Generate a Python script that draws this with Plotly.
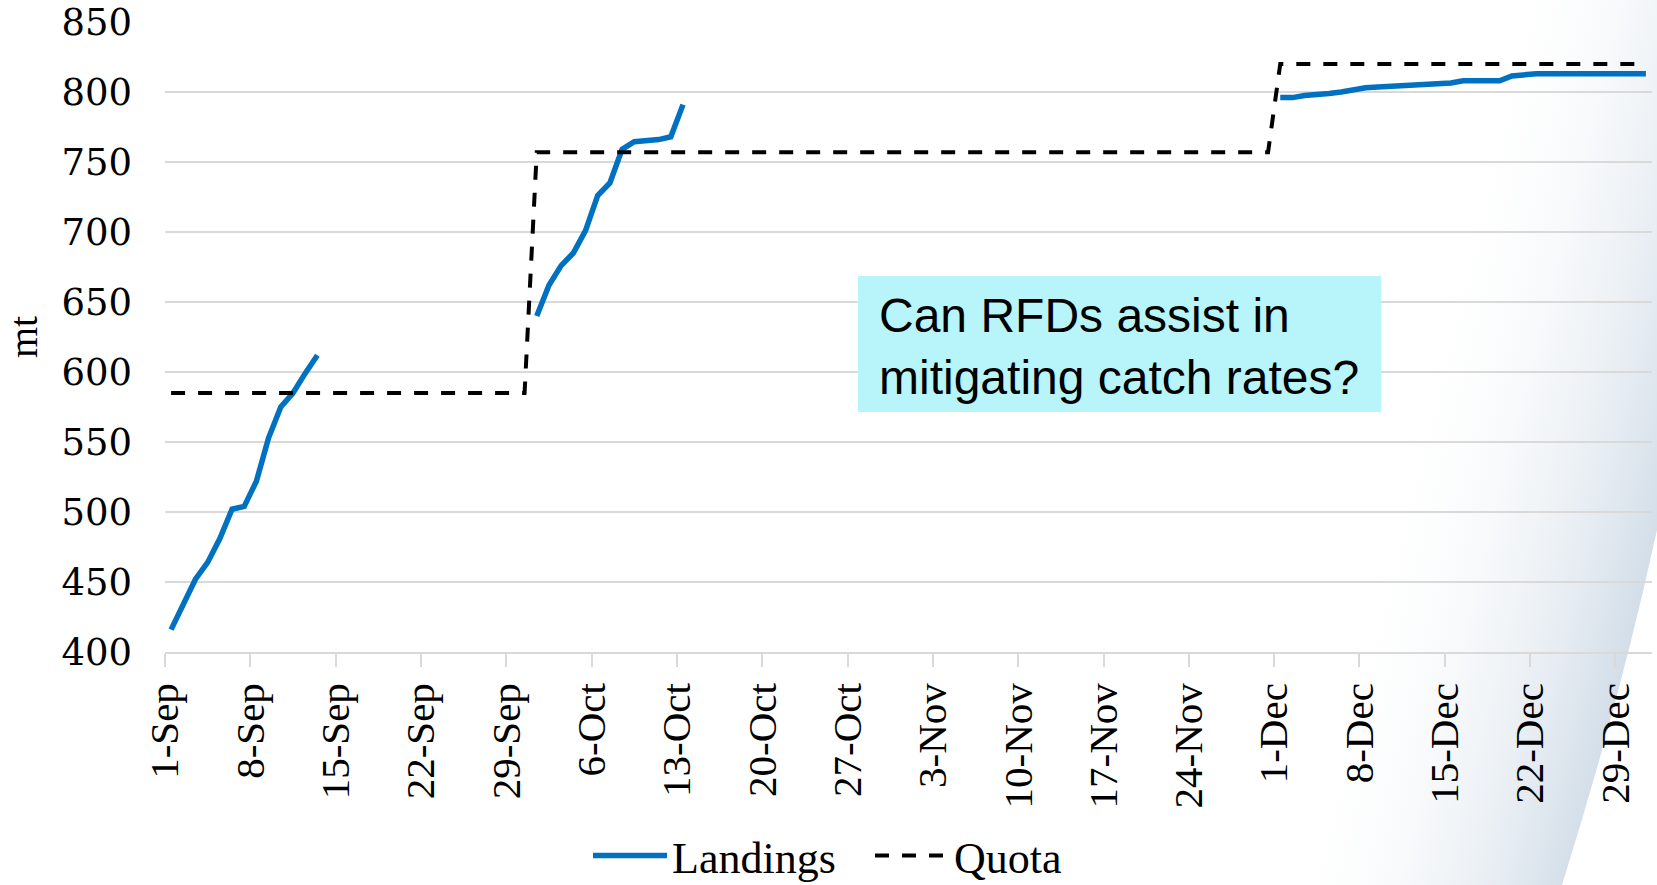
import base64
import plotly.graph_objects as go
import pandas as pd

# Landings (mt) - three reporting periods, one value per day
sep_start = "2023-09-01"
sep_landings = [416, 434, 452, 464, 481, 502, 504, 522, 553, 575, 585, 599, 612]

oct_start = "2023-10-01"
oct_landings = [640, 662, 676, 685, 701, 726, 735, 759, 764.5, 765, 766, 768, 791]

dec_start = "2023-12-01"
dec_landings = [796, 796, 797.5, 798, 799, 800, 801.5, 803, 803.5, 804, 804.3,
                804.8, 805, 805.2, 806.5, 808, 808, 808, 808, 811.5, 812.5,
                813, 813, 813, 813, 813, 813, 813, 813, 813, 813]

# Quota steps
quota_dates = ["2023-09-01", "2023-09-30", "2023-10-01", "2023-11-30", "2023-12-01", "2023-12-31"]
quota_values = [585, 585, 757, 757, 820, 820]

y_ticks = [400, 450, 500, 550, 600, 650, 700, 750, 800, 850]

BLUE = "#0070C0"
GRID = "#d9d9d9"
SERIF = "Liberation Serif"

# points sit in the middle of each day (category axis look)
half_day = pd.Timedelta(hours=12)

def day_series(start, values):
    dates = pd.date_range(start=start, periods=len(values), freq="D") + half_day
    return list(dates), list(values)

x_land, y_land = [], []
for start, vals in [(sep_start, sep_landings), (oct_start, oct_landings), (dec_start, dec_landings)]:
    d, v = day_series(start, vals)
    x_land += d + [None]
    y_land += v + [None]

x_quota = list(pd.to_datetime(quota_dates) + half_day)

fig = go.Figure()

fig.add_trace(go.Scatter(
    x=x_land, y=y_land, mode="lines", name="Landings",
    line=dict(color=BLUE, width=5.5), connectgaps=False,
))
fig.add_trace(go.Scatter(
    x=x_quota, y=quota_values, mode="lines", name="Quota",
    line=dict(color="black", width=4, dash="14px,13px"),
))

# decorative slide background in the lower right corner
svg = """<svg xmlns='http://www.w3.org/2000/svg' width='1657' height='885' viewBox='0 0 1657 885' preserveAspectRatio='none'>
<defs><linearGradient id='g' gradientUnits='userSpaceOnUse' x1='1390' y1='430' x2='1730' y2='515'>
<stop offset='0' stop-color='#ffffff' stop-opacity='0'/>
<stop offset='1' stop-color='#bccddd' stop-opacity='1'/>
</linearGradient></defs>
<path d='M 1150 0 L 1657 0 L 1657 530 Q 1620 700 1562 885 L 1150 885 Z' fill='url(#g)'/>
</svg>"""
svg_uri = "data:image/svg+xml;base64," + base64.b64encode(svg.encode()).decode()

L, R, T, B = 165, 5, 22, 233
W, H = 1657, 885
pw, ph = W - L - R, H - T - B

fig.add_layout_image(dict(
    source=svg_uri, xref="paper", yref="paper",
    x=-L / pw, y=1 + T / ph, sizex=W / pw, sizey=H / ph,
    xanchor="left", yanchor="top", sizing="stretch", layer="below",
))

# question box
box_x0, box_x1, box_y0, box_y1 = 858, 1381, 276, 412
fig.add_shape(
    type="rect", xref="paper", yref="paper",
    x0=(box_x0 - L) / pw, x1=(box_x1 - L) / pw,
    y0=(H - B - box_y1) / ph, y1=(H - B - box_y0) / ph,
    fillcolor="#b7f5fa", line=dict(width=0), layer="above",
)
fig.add_annotation(
    text="Can RFDs assist in<br>mitigating catch rates?",
    xref="paper", yref="paper", x=(877 - L) / pw, y=(H - B - 347) / ph,
    xanchor="left", yanchor="middle", align="left", showarrow=False,
    font=dict(family="Liberation Sans, Arial", size=48, color="black"),
)

# y axis title
fig.add_annotation(
    text="mt", xref="paper", yref="paper", x=(23 - L) / pw, y=0.5,
    xanchor="center", yanchor="middle", textangle=-90, showarrow=False,
    font=dict(family=SERIF, size=40, color="black"),
)

fig.update_layout(
    width=W, height=H,
    margin=dict(l=L, r=R, t=T, b=B, autoexpand=False),
    paper_bgcolor="white",
    plot_bgcolor="rgba(0,0,0,0)",
    showlegend=True,
    legend=dict(
        orientation="h", xref="container", yref="container",
        x=870 / W, xanchor="center", y=(H - 856) / H, yanchor="middle",
        font=dict(family=SERIF, size=44, color="black"),
        bgcolor="rgba(0,0,0,0)", itemwidth=74, entrywidth=193,
    ),
    xaxis=dict(
        type="date",
        range=["2023-09-01", "2024-01-01"],
        tick0="2023-09-01", dtick=7 * 86400000, tickformat="%-d-%b",
        tickangle=-90,
        tickfont=dict(family=SERIF, size=41, color="black"),
        showgrid=False, zeroline=False,
        showline=True, linecolor=GRID, linewidth=1.5,
        ticks="outside", ticklen=13, tickcolor=GRID, tickwidth=1.5,
        ticklabelstandoff=0,
    ),
    yaxis=dict(
        range=[400, 850], tickvals=y_ticks,
        tickfont=dict(family="DejaVu Serif", size=37, color="black"),
        showgrid=True, gridcolor=GRID, gridwidth=1.5,
        zeroline=False, showline=False,
        ticklabelstandoff=32,
    ),
)

fig.write_html("out.html", config={"displayModeBar": False},
               post_script="document.body.style.margin='0';")
